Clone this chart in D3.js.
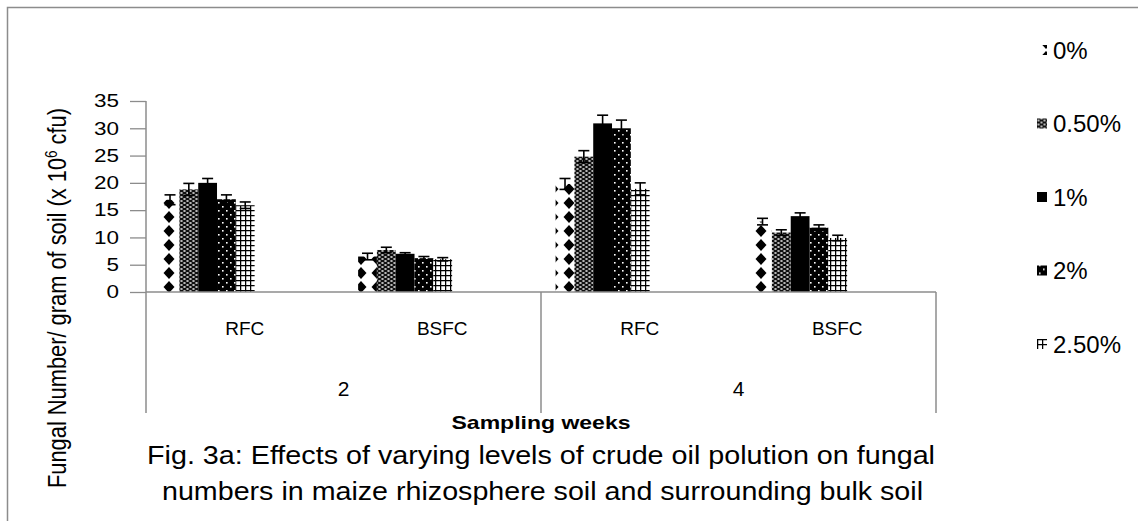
<!DOCTYPE html>
<html>
<head>
<meta charset="utf-8">
<script src="https://cdn.jsdelivr.net/npm/d3@7"></script>
<style>
  body { margin: 0; background: #fff; }
  text { font-family: "Liberation Sans", Arial, sans-serif; fill: #000; }
</style>
</head>
<body>
<div id="chart"></div>
<script>
// data
const weeks = ['2', '4'];
const sites = ['RFC', 'BSFC'];
const levels = ['0%', '0.50%', '1%', '2%', '2.50%'];
const yTicks = [0, 5, 10, 15, 20, 25, 30, 35];

// means, order: week2 RFC, week2 BSFC, week4 RFC, week4 BSFC
const mean0 = [16.9, 6.5, 19.8, 12.9];
const mean05 = [18.8, 7.7, 24.8, 10.9];
const mean1 = [20.0, 7.0, 30.9, 13.9];
const mean2 = [17.0, 6.2, 30.0, 11.8];
const mean25 = [15.9, 6.0, 18.9, 9.9];

const err0 = [0.9, 0.6, 1.0, 0.6];
const err05 = [1.1, 0.5, 1.1, 0.5];
const err1 = [0.8, 0.2, 1.5, 0.6];
const err2 = [0.8, 0.3, 1.5, 0.5];
const err25 = [0.6, 0.3, 1.1, 0.5];

const means = [mean0, mean05, mean1, mean2, mean25];
const errs = [err0, err05, err1, err2, err25];

const chartW = 1138;
const chartH = 521;
const plotLeft = 146;
const plotRight = 936;
const plotTop = 101;
const plotBottom = 292;
const axisColor = '#8c8c8c';

const rows = [];
weeks.forEach((w, wi) => {
  sites.forEach((s, si) => {
    levels.forEach((l, li) => {
      const k = wi * sites.length + si;
      rows.push({ week: w, site: s, level: l, li, value: means[li][k], err: errs[li][k] });
    });
  });
});

const svg = d3.select('#chart').append('svg')
  .attr('width', chartW)
  .attr('height', chartH);

// fill patterns
const defs = svg.append('defs');

const pDiamond = defs.append('pattern').attr('id', 'p0')
  .attr('patternUnits', 'userSpaceOnUse').attr('width', 16).attr('height', 14)
  .attr('x', 1);
pDiamond.append('rect').attr('width', 16).attr('height', 14).attr('fill', '#fff');
pDiamond.append('path').attr('d', 'M8,1 L13.5,7 L8,13 L2.5,7 Z').attr('fill', '#000');

const pMesh = defs.append('pattern').attr('id', 'p1')
  .attr('patternUnits', 'userSpaceOnUse').attr('width', 6).attr('height', 4);
pMesh.append('rect').attr('width', 6).attr('height', 4).attr('fill', '#111');
pMesh.append('ellipse').attr('cx', 1.5).attr('cy', 1).attr('rx', 1.4).attr('ry', 0.7).attr('fill', '#fff');
pMesh.append('ellipse').attr('cx', 4.5).attr('cy', 3).attr('rx', 1.4).attr('ry', 0.7).attr('fill', '#fff');

const pSolid = defs.append('pattern').attr('id', 'p2')
  .attr('patternUnits', 'userSpaceOnUse').attr('width', 4).attr('height', 4);
pSolid.append('rect').attr('width', 4).attr('height', 4).attr('fill', '#000');

const pDots = defs.append('pattern').attr('id', 'p3')
  .attr('patternUnits', 'userSpaceOnUse').attr('width', 8).attr('height', 8);
pDots.append('rect').attr('width', 8).attr('height', 8).attr('fill', '#000');
pDots.append('rect').attr('x', 2).attr('y', 2).attr('width', 1.6).attr('height', 1.6).attr('fill', '#fff');
pDots.append('rect').attr('x', 6).attr('y', 6).attr('width', 1.6).attr('height', 1.6).attr('fill', '#fff');

const pGrid = defs.append('pattern').attr('id', 'p4')
  .attr('patternUnits', 'userSpaceOnUse').attr('width', 5).attr('height', 5);
pGrid.append('rect').attr('width', 5).attr('height', 5).attr('fill', '#fff');
pGrid.append('path').attr('d', 'M0,0.6 H5 M0.6,0 V5').attr('stroke', '#000').attr('stroke-width', 1.3);

const fills = ['url(#p0)', 'url(#p1)', 'url(#p2)', 'url(#p3)', 'url(#p4)'];

// outer frame (cropped at the right and bottom in the figure)
svg.append('path')
  .attr('d', `M7.5,${chartH} V7.5 H${chartW}`)
  .attr('fill', 'none')
  .attr('stroke', '#8c8c8c')
  .attr('stroke-width', 1.5);

// scales
const x0 = d3.scaleBand().domain(weeks).range([plotLeft, plotRight]);
const x1 = d3.scaleBand().domain(sites).range([0, x0.bandwidth()]);
const bw = x1.bandwidth();
const x2 = d3.scaleBand().domain(levels).range([bw * 0.074, bw * 0.55]);
const y = d3.scaleLinear().domain([0, 35]).range([plotBottom, plotTop]);

const barX = (d) => x0(d.week) + x1(d.site) + x2(d.level);

// y axis
const yAxis = svg.append('g')
  .attr('transform', `translate(${plotLeft},0)`)
  .call(d3.axisLeft(y).tickValues(yTicks).tickSize(16).tickPadding(11));
yAxis.select('.domain').remove();
yAxis.selectAll('line').attr('stroke', axisColor).attr('stroke-width', 1.3);
yAxis.selectAll('text')
  .style('font-family', '"Liberation Sans", Arial, sans-serif')
  .style('font-size', '18px')
  .attr('textLength', (d) => (String(d).length > 1 ? 25 : 12.5))
  .attr('lengthAdjust', 'spacingAndGlyphs')
  .attr('fill', '#000');

svg.append('line')
  .attr('x1', plotLeft).attr('x2', plotLeft)
  .attr('y1', y(35)).attr('y2', 413)
  .attr('stroke', axisColor).attr('stroke-width', 1.5);

// bars
svg.append('g').selectAll('rect')
  .data(rows)
  .join('rect')
  .attr('x', barX)
  .attr('y', (d) => y(d.value))
  .attr('width', x2.bandwidth())
  .attr('height', (d) => y(0) - y(d.value))
  .attr('fill', (d) => fills[d.li]);

// error bars
const eb = svg.append('g').attr('stroke', '#000').attr('stroke-width', 1.6);
rows.forEach((d) => {
  const cx = barX(d) + x2.bandwidth() / 2;
  const yHi = y(d.value + d.err);
  const yLo = y(d.value - d.err);
  eb.append('line').attr('x1', cx).attr('x2', cx).attr('y1', yHi).attr('y2', yLo);
  eb.append('line').attr('x1', cx - 5.5).attr('x2', cx + 5.5).attr('y1', yHi).attr('y2', yHi);
  eb.append('line').attr('x1', cx - 5.5).attr('x2', cx + 5.5).attr('y1', yLo).attr('y2', yLo);
});

// x axis line and group dividers
svg.append('line')
  .attr('x1', plotLeft).attr('x2', plotRight)
  .attr('y1', y(0)).attr('y2', y(0))
  .attr('stroke', axisColor).attr('stroke-width', 1.5);

svg.append('g').selectAll('line')
  .data(weeks.slice(1).concat(['end']))
  .join('line')
  .attr('x1', (d) => (d === 'end' ? plotRight : x0(d)))
  .attr('x2', (d) => (d === 'end' ? plotRight : x0(d)))
  .attr('y1', y(0))
  .attr('y2', 413)
  .attr('stroke', axisColor)
  .attr('stroke-width', 1.5);

// category labels
const siteLabels = [];
weeks.forEach((w) => sites.forEach((s) => siteLabels.push({ w, s })));
svg.append('g').selectAll('text')
  .data(siteLabels)
  .join('text')
  .attr('x', (d) => x0(d.w) + x1(d.s) + bw / 2)
  .attr('y', 335)
  .attr('text-anchor', 'middle')
  .style('font-size', '19px')
  .text((d) => d.s);

svg.append('g').selectAll('text')
  .data(weeks)
  .join('text')
  .attr('x', (d) => x0(d) + x0.bandwidth() / 2)
  .attr('y', 396)
  .attr('text-anchor', 'middle')
  .style('font-size', '21px')
  .text((d) => d);

svg.append('text')
  .attr('x', (plotLeft + plotRight) / 2)
  .attr('y', 429)
  .attr('text-anchor', 'middle')
  .attr('textLength', 179)
  .attr('lengthAdjust', 'spacingAndGlyphs')
  .style('font-size', '19px')
  .style('font-weight', 'bold')
  .text('Sampling weeks');

// y axis title
svg.append('text')
  .attr('transform', 'translate(66,298) rotate(-90)')
  .attr('text-anchor', 'middle')
  .attr('textLength', 380)
  .attr('lengthAdjust', 'spacingAndGlyphs')
  .style('font-size', '26px')
  .text('Fungal Number/ gram of soil (x 10')
  .append('tspan')
  .attr('dy', -9)
  .style('font-size', '16px')
  .text('6')
  .append('tspan')
  .attr('dy', 9)
  .style('font-size', '26px')
  .text(' cfu)');

// caption
svg.append('text')
  .attr('x', 147).attr('y', 464)
  .attr('textLength', 788)
  .attr('lengthAdjust', 'spacingAndGlyphs')
  .style('font-size', '25px')
  .text('Fig. 3a: Effects of varying levels of crude oil polution  on fungal');

svg.append('text')
  .attr('x', 162).attr('y', 500)
  .attr('textLength', 761)
  .attr('lengthAdjust', 'spacingAndGlyphs')
  .style('font-size', '25px')
  .text('numbers in maize rhizosphere soil and surrounding bulk soil');

// legend
const legendY = d3.scalePoint().domain(levels).range([50, 344]);
const legend = svg.append('g').selectAll('g')
  .data(levels)
  .join('g')
  .attr('transform', (d) => `translate(1037,${legendY(d)})`);

legend.append('rect')
  .attr('x', 0).attr('y', -5)
  .attr('width', 10).attr('height', 10)
  .attr('fill', (d, i) => fills[i]);

legend.append('text')
  .attr('x', 16).attr('y', 8.5)
  .style('font-size', '24px')
  .text((d) => d);
</script>
</body>
</html>
